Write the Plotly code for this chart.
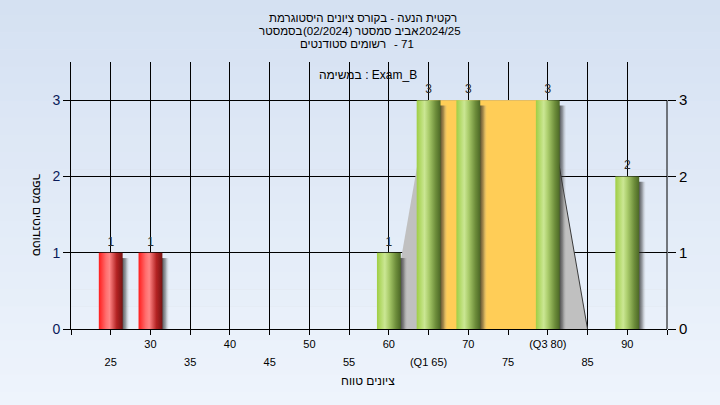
import plotly.graph_objects as go

# ---- data ----
grade_bins = [25, 30, 60, 65, 70, 80, 90]
students = [1, 1, 1, 3, 3, 3, 2]
pass_grade = 55

q1, q3 = 65, 80
range_x = [60, 65, 80, 85]
range_y = [0, 3, 3, 0]

upper_tickvals = [30, 40, 50, 60, 70, 80, 90]
upper_ticktext = ["30", "40", "50", "60", "70", "(Q3 80)", "90"]
lower_tickvals = [25, 35, 45, 55, 65, 75, 85]
lower_ticktext = ["25", "35", "45", "55", "(Q1 65)", "75", "85"]

title_line1 = "היסטוגרמת ציונים בקורס - הנעה רקטית"
title_line2 = ["בסמסטר", "(02/2024)", "סמסטר אביב", "2024/25"]
title_line3 = ["סטודנטים רשומים", "- 71"]
task_label = "במשימה : Exam_B"
x_title = "טווח ציונים"
y_title = "מספר סטודנטים"

FONT = "Liberation Sans, Arial, sans-serif"
BAR_W = 3.0


def visual(s):
    # the reference lays Hebrew words out left-to-right; the browser would run
    # them right-to-left, so hand it the words in reverse order
    return " ".join(reversed(s.split(" ")))


red_scale = [[0, "#FF1C1C"], [0.3, "#FF6E6E"], [0.45, "#FF8585"],
             [0.75, "#B32222"], [1, "#761313"]]
green_scale = [[0, "#9FCE44"], [0.33, "#CBE794"], [0.5, "#ABCD6C"],
               [0.8, "#6C8C3A"], [1, "#4C6826"]]
shadow_scale = [[0, "rgba(30,30,30,0.8)"], [0.5, "rgba(60,60,60,0.45)"],
                [1, "rgba(180,180,180,0)"]]

fig = go.Figure()

# light range polygon
fig.add_trace(go.Scatter(
    x=range_x + [range_x[0]], y=range_y + [range_y[0]],
    fill="toself", fillcolor="#C0C0C0", mode="none", hoverinfo="skip",
))
# inter-quartile box
fig.add_trace(go.Scatter(
    x=[q1, q1, q3, q3, q1], y=[0, max(students), max(students), 0, 0],
    fill="toself", fillcolor="#FFCD57", mode="none", hoverinfo="skip",
))
# right edge of the range polygon
fig.add_trace(go.Scatter(
    x=range_x[2:], y=range_y[2:], mode="lines",
    line=dict(color="#3A3A3A", width=1), hoverinfo="skip",
))

# bars: shadow + cylinder
for g, n in zip(grade_bins, students):
    x0, x1 = g - BAR_W / 2, g + BAR_W / 2
    fig.add_trace(go.Scatter(
        x=[x1 - 0.1, x1 - 0.1, x1 + 0.85, x1 + 0.85, x1 - 0.1],
        y=[0, n - 0.07, n - 0.07, 0, 0],
        fill="toself", mode="none", hoverinfo="skip",
        fillgradient=dict(type="horizontal", colorscale=shadow_scale,
                          start=x1 - 0.1, stop=x1 + 0.85),
    ))
    fig.add_trace(go.Scatter(
        x=[x0, x0, x1, x1, x0], y=[0, n, n, 0, 0],
        fill="toself", mode="none", hoverinfo="skip",
        fillgradient=dict(type="horizontal",
                          colorscale=red_scale if g < pass_grade else green_scale,
                          start=x0, stop=x1),
    ))

# count labels
fig.add_trace(go.Scatter(
    x=grade_bins, y=students, mode="markers+text", text=[str(n) for n in students],
    marker=dict(size=5, opacity=0), textposition="top center",
    textfont=dict(size=12, color="#2A2A2A"), hoverinfo="skip",
))

# lower row of x tick labels sits on an overlaying axis
fig.add_trace(go.Scatter(x=[], y=[], xaxis="x2", yaxis="y2", showlegend=False))

# paper gradient
bands = 24
top_c, bot_c = (213, 225, 242), (238, 244, 252)
shapes = []
for i in range(bands):
    t = i / (bands - 1)
    c = tuple(round(a + (b - a) * t) for a, b in zip(top_c, bot_c))
    y1 = 1.24 - i * (1.24 + 0.30) / bands
    y0 = y1 - (1.24 + 0.30) / bands - 0.002
    shapes.append(dict(type="rect", xref="paper", yref="paper", layer="below",
                       x0=-0.2, x1=1.2, y0=y0, y1=y1,
                       fillcolor="rgb(%d,%d,%d)" % c, line_width=0))
# right axis line, drawn from 0 to 3 only
shapes.append(dict(type="line", xref="paper", yref="y", x0=1, x1=1, y0=0, y1=3,
                   line=dict(color="black", width=1)))


def note(text, px, py, size=12, **kw):
    # place a text by its page pixel centre
    return dict(text=text, xref="paper", yref="paper",
                x=(px - 71) / 596, y=(329 - py) / 267,
                xanchor="center", yanchor="middle", showarrow=False,
                font=dict(size=size, color="black"), **kw)


annotations = [
    note(visual(title_line1), 363, 18, 11.5),
    note(visual(title_line2[0]), 281, 31, 11.5),
    note(title_line2[1], 327, 31, 11.5),
    note(visual(title_line2[2]), 387, 31, 11.5),
    note(title_line2[3], 440, 31, 11.5),
    note(visual(title_line3[0]), 343, 44, 11.5),
    note(title_line3[1], 404, 44, 11.5),
    note(task_label, 368, 75),
    note(visual(x_title), 368, 381),
    note(visual(y_title), 37, 215, textangle=90),
]

all_ticks = list(range(20, 100, 5))
fig.update_layout(
    width=720, height=405,
    margin=dict(l=71, r=53, t=62, b=76),
    paper_bgcolor="#E3EBF7",
    plot_bgcolor="#B4B4B4",
    showlegend=False,
    font=dict(family=FONT, size=12, color="black"),
    shapes=shapes,
    annotations=annotations,
    xaxis=dict(
        range=[20, 95], tickvals=all_ticks,
        ticktext=[upper_ticktext[upper_tickvals.index(v)] if v in upper_tickvals else ""
                  for v in all_ticks],
        showgrid=True, gridcolor="black", gridwidth=1,
        ticks="outside", ticklen=5, tickcolor="black",
        showline=True, linecolor="black", linewidth=1,
        tickfont=dict(size=11, color="black"), zeroline=False,
    ),
    xaxis2=dict(
        range=[20, 95], overlaying="x", anchor="y", side="bottom",
        tickvals=lower_tickvals, ticktext=lower_ticktext,
        showgrid=False, ticks="", showline=False, zeroline=False,
        tickfont=dict(size=11, color="black"), ticklabelstandoff=25,
    ),
    yaxis=dict(
        range=[0, 3.5], tickvals=[0, 1, 2, 3],
        showgrid=True, gridcolor="black", gridwidth=1,
        ticks="outside", ticklen=7, tickcolor="black",
        showline=True, linecolor="black", linewidth=1,
        tickfont=dict(size=14, color="#0A1A5A"), zeroline=False,
    ),
    yaxis2=dict(
        range=[0, 3.5], tickvals=[0, 1, 2, 3], overlaying="y", side="right",
        showgrid=False, ticks="outside", ticklen=8, tickcolor="black",
        showline=False, zeroline=False,
        tickfont=dict(size=15, color="black"),
    ),
)

fig.write_html("out.html", config={"displayModeBar": False},
               post_script="document.body.style.margin='0';")
